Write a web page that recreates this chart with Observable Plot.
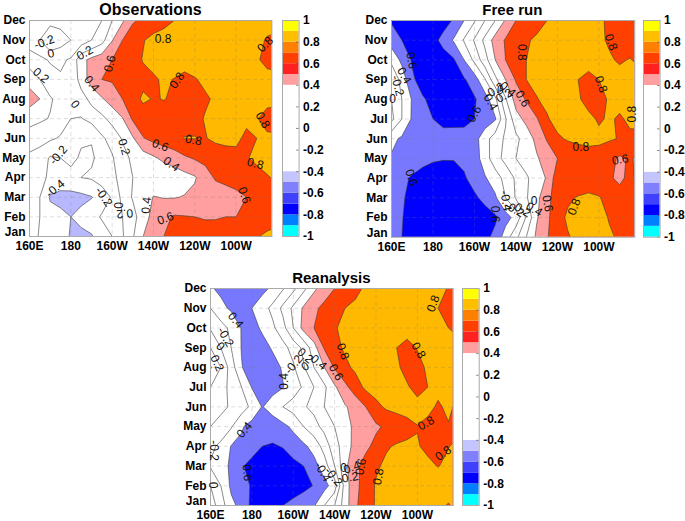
<!DOCTYPE html>
<html><head><meta charset="utf-8">
<style>
html,body{margin:0;padding:0;background:#fff}
#page{position:relative;width:685px;height:521px;overflow:hidden;font-family:"Liberation Sans",Arial,sans-serif}
#page svg{position:absolute;background:transparent;overflow:visible}
.ttl{position:absolute;font-weight:bold;text-align:center;color:#000;line-height:1;white-space:nowrap;transform:translateX(-50%)}
</style>
<script src="https://cdn.jsdelivr.net/npm/d3@7"></script>
<script src="https://cdn.jsdelivr.net/npm/@observablehq/plot@0.6"></script>
</head><body><div id="page"></div>
<script>
const months = ["Jan","Feb","Mar","Apr","May","Jun","Jul","Aug","Sep","Oct","Nov","Dec"];
const lonTicks = [160,180,200,220,240,260];
const lonLabels = ["160E","180","160W","140W","120W","100W"];
const levels = [-1,-.8,-.6,-.4,-.2,0,.2,.4,.6,.8];
const barTicks = [-1,-.8,-.6,-.4,-.2,0,.2,.4,.6,.8,1];
const barBands = [-1,-.9,-.8,-.7,-.6,-.5,-.4,.4,.5,.6,.7,.8,.9,1];
const barColors = ["#00ffff","#0080ff","#0000ff","#4040ff","#8080ff","#c4c4ff","#ffffff","#ff9f9f","#ff2020","#ff4000","#ff8000","#ffbf00","#ffff00"];
const obsColors = ["#0000ff","#0000ff","#b8b8ff","#fff","#fff","#fff","#fff","#ff9f9f","#ff4000","#ffb900"];
const modelColors = ["#0000ff","#0000ff","#7878ff","#fff","#fff","#fff","#fff","#ff9f9f","#ff4000","#ffb900"];

// rows Dec -> Jan, columns 160..280 every 5 degrees
const obsGrid = [
[-.1,-.1,-.12,-.12,-.12,-.1,-.05,0,.2,.37,.58,.63,.7,.75,.8,.84,.86,.88,.88,.88,.88,.88,.88,.88,.88],
[-.1,-.2,-.41,-.3,-.2,-.12,0,.12,.39,.6,.7,.79,.85,.87,.88,.88,.88,.88,.88,.88,.88,.88,.86,.78,.75],
[.1,.05,-.02,-.03,.02,.34,.45,.52,.6,.68,.74,.81,.85,.87,.88,.88,.88,.88,.88,.88,.88,.85,.82,.75,.72],
[.32,.2,.08,.02,0,.3,.48,.6,.62,.65,.7,.75,.78,.82,.795,.75,.79,.83,.85,.86,.86,.86,.86,.86,.86],
[.5,.4,.22,.14,.02,.1,.27,.38,.49,.6,.73,.83,.79,.805,.78,.76,.76,.78,.82,.85,.85,.85,.85,.85,.85],
[.26,.23,.19,.1,0,-.01,.06,.15,.27,.39,.63,.7,.73,.74,.75,.75,.76,.81,.85,.85,.85,.83,.81,.74,.72],
[.12,.08,.03,-.02,-.1,-.18,-.19,-.03,.07,.22,.38,.59,.66,.7,.74,.805,.805,.79,.84,.85,.83,.77,.8,.83,.83],
[-.05,-.1,-.22,-.2,-.16,-.22,-.22,-.15,-.02,.13,.24,.3,.37,.45,.5,.57,.62,.65,.68,.72,.76,.79,.83,.85,.85],
[-.1,-.12,-.25,-.28,-.25,-.2,-.18,-.12,-.05,.07,.2,.22,.24,.24,.28,.33,.38,.52,.62,.65,.68,.72,.75,.79,.82],
[-.1,-.2,-.42,-.46,-.47,-.45,-.41,-.3,-.18,.06,.22,.3,.41,.39,.39,.41,.45,.48,.5,.52,.55,.6,.65,.7,.75],
[-.12,-.2,-.33,-.35,-.4,-.34,-.27,-.18,-.08,0,.12,.33,.45,.55,.62,.61,.6,.58,.58,.6,.6,.64,.68,.72,.75],
[-.1,-.22,-.3,-.35,-.41,-.45,-.42,-.3,-.2,-.02,.18,.4,.52,.6,.68,.69,.7,.71,.72,.73,.74,.76,.79,.83,.85]
];
const freeGrid = [
[-.62,-.67,-.72,-.74,-.75,-.68,-.58,-.4,-.22,0,.2,.42,.6,.66,.73,.8,.87,.88,.88,.85,.82,.78,.74,.73,.72],
[-.5,-.6,-.67,-.67,-.66,-.54,-.38,-.18,.02,.25,.48,.62,.72,.78,.83,.85,.87,.88,.88,.86,.83,.78,.72,.71,.7],
[-.25,-.45,-.62,-.68,-.72,-.68,-.62,-.4,-.15,.12,.4,.6,.76,.8,.85,.87,.88,.88,.88,.87,.85,.82,.78,.81,.76],
[-.02,-.28,-.57,-.68,-.75,-.73,-.7,-.62,-.5,-.22,.15,.4,.62,.8,.85,.87,.88,.84,.8,.75,.8,.84,.86,.86,.86],
[0,-.2,-.42,-.58,-.65,-.7,-.72,-.68,-.62,-.5,-.25,.18,.48,.62,.79,.85,.88,.86,.82,.74,.74,.82,.85,.86,.86],
[.05,-.2,-.43,-.55,-.6,-.64,-.66,-.65,-.6,-.52,-.42,-.02,.33,.45,.58,.78,.87,.88,.87,.84,.78,.82,.78,.83,.85],
[-.35,-.43,-.5,-.53,-.55,-.55,-.52,-.53,-.48,-.28,-.1,.03,.15,.3,.45,.62,.77,.82,.84,.85,.84,.82,.79,.77,.75],
[-.42,-.46,-.5,-.55,-.58,-.59,-.59,-.56,-.5,-.3,-.08,.06,.2,.3,.38,.48,.6,.65,.7,.72,.72,.66,.57,.62,.55],
[-.5,-.56,-.62,-.66,-.68,-.69,-.68,-.62,-.53,-.42,-.3,-.13,.03,.17,.3,.42,.72,.7,.7,.71,.7,.63,.55,.66,.52],
[-.55,-.58,-.65,-.69,-.72,-.73,-.72,-.68,-.63,-.55,-.43,-.2,.02,.18,.35,.53,.72,.78,.81,.83,.81,.75,.7,.67,.65],
[-.5,-.59,-.68,-.73,-.76,-.77,-.76,-.75,-.72,-.68,-.63,-.48,-.33,.02,.38,.55,.75,.82,.86,.87,.85,.79,.72,.7,.68],
[-.48,-.6,-.7,-.75,-.78,-.79,-.78,-.77,-.74,-.65,-.55,-.3,-.05,.2,.44,.58,.75,.79,.83,.84,.84,.82,.78,.74,.7]
];
const reanGrid = [
[-.38,-.44,-.5,-.52,-.52,-.46,-.36,-.22,-.05,.15,.36,.5,.6,.66,.75,.83,.86,.88,.88,.88,.88,.88,.85,.79,.75],
[-.2,-.35,-.43,-.46,-.4,-.28,-.15,.05,.24,.43,.56,.65,.72,.8,.84,.86,.88,.88,.88,.88,.88,.86,.8,.75,.72],
[-.02,-.12,-.25,-.41,-.47,-.37,-.24,-.07,.2,.47,.6,.68,.79,.83,.85,.87,.88,.88,.88,.88,.88,.86,.83,.8,.76],
[.2,0,-.2,-.41,-.5,-.47,-.38,-.27,-.12,.05,.32,.62,.74,.83,.86,.87,.88,.85,.8,.74,.81,.85,.86,.86,.85],
[.42,.2,-.1,-.39,-.5,-.5,-.47,-.38,-.23,-.02,.2,.4,.62,.75,.84,.87,.88,.86,.83,.74,.74,.83,.85,.85,.85],
[.2,.07,-.05,-.2,-.41,-.47,-.46,-.41,-.3,-.17,0,.16,.37,.55,.7,.84,.88,.87,.86,.82,.74,.8,.84,.85,.85],
[.08,.04,-.02,-.1,-.25,-.41,-.32,-.2,-.12,-.02,.05,.2,.3,.38,.47,.6,.75,.83,.86,.87,.86,.84,.78,.83,.76],
[0,-.06,-.18,-.38,-.47,-.5,-.5,-.45,-.36,-.2,-.07,.06,.2,.32,.45,.52,.57,.63,.68,.74,.795,.76,.74,.79,.75],
[-.15,-.25,-.41,-.44,-.52,-.6,-.62,-.59,-.5,-.44,-.33,-.12,.12,.3,.47,.56,.65,.78,.82,.83,.81,.77,.78,.795,.84],
[-.22,-.33,-.43,-.58,-.66,-.7,-.72,-.7,-.66,-.6,-.47,-.3,0,.35,.55,.67,.77,.84,.86,.86,.85,.83,.795,.83,.87],
[0,-.2,-.44,-.52,-.62,-.72,-.76,-.76,-.72,-.66,-.59,-.47,-.3,.3,.55,.68,.82,.86,.87,.87,.87,.87,.87,.87,.87],
[.1,-.1,-.35,-.46,-.65,-.72,-.68,-.6,-.53,-.47,-.42,-.2,0,.3,.57,.7,.82,.85,.86,.86,.86,.85,.83,.79,.84]
];

// contour labels: longitude, month index, text, turn
const obsLabels = [[167.1,9.9,"-0.2",-20],[170.3,9.31,"0",-10],[186.8,9.34,"0.2",-30],[165.5,8.2,"0.2",40],[198.9,8.8,"0.6",-75],[190.1,7.78,"0.4",50],[182,6.73,"0",50],[224.6,10.07,"0.8",0],[274.1,9.78,"0.8",-45],[231.4,7.95,"0.8",-55],[272.9,5.92,"0.8",60],[205.7,4.56,"0.2",75],[239.4,4.9,"0.8",10],[223.3,4.64,"0.6",20],[228.6,3.68,"0.4",35],[174,4.14,"-0.2",-50],[269.3,3.71,"0.8",15],[172.4,2.44,"-0.4",-40],[196,2.02,"-0.2",55],[264,2.1,"0.6",70],[202.9,1.59,"0",90],[206.1,1.17,"0.2",175],[216.6,1.59,"0.4",-85],[225.8,.92,"0.6",-20]];
const freeLabels = [[169.6,8.97,"0.6",80],[166.1,8.2,"0.4",60],[162.9,7.69,"-0.2",75],[160.5,7,"0",0],[222.7,9.39,"0.8",90],[265.8,9.9,"0.8",70],[261,7.76,"0.8",70],[223.2,7.02,"0.6",60],[276.2,6.25,"0.8",-90],[199.9,6.25,"0.6",-60],[207.9,6.85,"0.4",60],[209.5,7.44,"-0.2",-30],[214.3,7.18,"0.2",-30],[212.5,7.44,"0",0],[216,7.5,"0.4",40],[251.3,4.59,"0.8",0],[270.3,3.93,"0.6",-10],[169.6,3.03,"0.6",70],[248.1,1.54,"0.8",-70],[235.2,1.71,"0.6",80],[209.8,1.17,"0.6",90],[215.1,1.85,"-0.4",80],[219.2,1.42,"-0.2",30],[223.2,1.37,"0.2",30],[228.8,1.85,"0",0],[228.8,1.41,"0.4",30]];
const reanLabels = [[172.1,9.39,"0.4",50],[167.2,8.54,"-0.2",60],[164.8,8.07,"0",45],[163.2,7.22,"0.2",65],[224,7.81,"0.8",70],[260.5,7.86,"0.8",60],[267.7,10.24,"0.8",-70],[220.6,6.75,"0.6",60],[212.3,7.25,"0.4",40],[205.8,7.05,"0",-30],[205.8,7.59,"0.2",40],[200.2,7.14,"-0.2",-50],[195.7,6.29,"0.4",-90],[176.4,3.83,"0.4",-50],[161.6,2.78,"-0.2",90],[264.2,4.17,"0.8",-30],[272.5,2.64,"0.8",-35],[177.7,1.66,"0.6",85],[161.6,1.03,"0",-90],[241.2,1.46,"0.8",-80],[232.7,1.97,"0.6",-80],[214.3,1.71,"-0.4",60],[219.5,1.46,"-0.2",50],[224.3,1.88,"0",0],[227.5,1.42,"0.2",-10],[228.3,1.93,"0.4",-20]];

const page = document.getElementById("page");
const font = "Liberation Sans";
function place(svg,left,top){svg.style.left=left+"px";svg.style.top=top+"px";page.appendChild(svg);}

function panel(title,titleSize,grid,labels,colors,L,T,R,B,barL,barR){
  const pad=40;
  const monthAxis={tickFormat:d=>months[d],label:null,tickSize:0,tickPadding:4,fontSize:12,fontWeight:"bold",fill:"#000"};
  const svg = Plot.plot({
    width:(R-L)+pad+10, height:(B-T)+pad,
    marginLeft:pad, marginRight:10, marginTop:10, marginBottom:pad-10,
    style:{fontFamily:font,background:"transparent",overflow:"visible"},
    x:{domain:[160,277.3],axis:null},
    y:{domain:[0,11],axis:null},
    color:{type:"ordinal",domain:levels,range:colors},
    marks:[
      Plot.contour(grid.flat(),{width:25,height:12,x1:157.5,x2:282.5,y1:11.5,y2:-.5,
        value:d=>d,thresholds:levels,fill:"value",stroke:"#3a3a3a",strokeWidth:.6,clip:true}),
      Plot.gridX(lonTicks,{stroke:"#777",strokeOpacity:.35,strokeDasharray:"4,3",strokeWidth:.7}),
      Plot.gridY(d3.range(12),{stroke:"#777",strokeOpacity:.35,strokeDasharray:"4,3",strokeWidth:.7}),
      Plot.frame({stroke:"#aaa",strokeWidth:1}),
      Plot.text(labels,{x:d=>d[0],y:d=>d[1],text:d=>d[2],rotate:d=>d[3],fontSize:12,fill:"#111",textAnchor:"middle",lineAnchor:"middle"}),
      Plot.axisX(lonTicks,{tickFormat:(d,i)=>lonLabels[i],label:null,tickSize:0,tickPadding:5,fontSize:12,fontWeight:"bold",fill:"#000"}),
      Plot.axisY(d3.range(1,12),monthAxis),
      Plot.axisY([0],{...monthAxis,dy:-4})
    ]
  });
  place(svg,L-pad,T-10);
  const bar = Plot.plot({
    width:(barR-barL)+40, height:(B-T)+20,
    marginLeft:0, marginRight:40, marginTop:10, marginBottom:10,
    style:{fontFamily:font,background:"transparent",overflow:"visible"},
    x:{domain:[0,1],axis:null},
    y:{domain:[-1,1],axis:null},
    marks:[
      Plot.rect(barColors,{x1:0,x2:1,y1:(d,i)=>barBands[i],y2:(d,i)=>barBands[i+1],fill:d=>d}),
      Plot.ruleY(barTicks,{x1:.85,x2:1,stroke:"#555",strokeWidth:.7}),
      Plot.frame({stroke:"#aaa",strokeWidth:1}),
      Plot.axisY(barTicks,{anchor:"right",tickFormat:d=>String(d),label:null,tickSize:0,tickPadding:4,fontSize:12,fontWeight:"bold",fill:"#000",textAnchor:"start"})
    ]
  });
  place(bar,barL,T-10);
  const t=document.createElement("div");
  t.className="ttl";t.textContent=title;t.style.fontSize=titleSize+"px";
  t.style.left=((L+R)/2+0)+"px";t.style.top=(T-18)+"px";
  page.appendChild(t);
}
panel("Observations",16,obsGrid,obsLabels,obsColors,29.3,20,271.7,236,281.7,298.3);
panel("Free run",15,freeGrid,freeLabels,modelColors,390.7,20,634,236.7,642.7,659.3);
panel("Reanalysis",15,reanGrid,reanLabels,modelColors,210,287.7,452.7,504.7,462,478.7);
</script></body></html>
